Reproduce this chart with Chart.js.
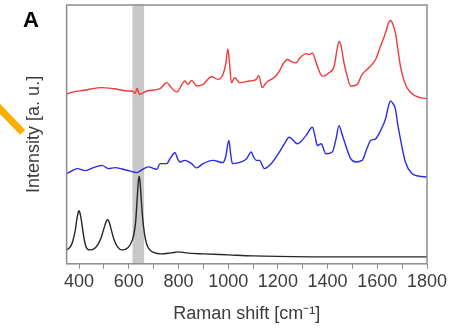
<!DOCTYPE html>
<html><head><meta charset="utf-8">
<script src="https://cdn.jsdelivr.net/npm/chart.js@4/dist/chart.umd.min.js"></script>
<style>
html,body{margin:0;padding:0;background:#fff;}
#wrap{position:relative;width:459px;height:329px;overflow:hidden;}
#panel{position:absolute;left:23px;top:7px;line-height:21px;font:bold 22px "Liberation Sans",Arial,sans-serif;color:#000;}
#mark{position:absolute;left:-10px;top:95px;width:47px;height:7px;background:#f6b100;transform-origin:0 50%;transform:rotate(46deg);}
</style></head><body>
<div id="wrap"><canvas id="c" width="459" height="329"></canvas><div id="panel">A</div><div id="mark"></div></div>
<script>
// Raman spectra (x: Raman shift in cm^-1, y: intensity in arbitrary units, stacked offsets)
const shiftRed = [350,366,420,486,540,593,614,626,634,642,673,726,753,770,793,826,838,853,873,899,933,959,979,990,999,1006,1013,1026,1046,1086,1113,1123,1137,1153,1173,1190,1206,1222,1239,1254,1273,1290,1313,1326,1339,1350,1359,1379,1406,1426,1438,1446,1454,1466,1478,1493,1519,1539,1566,1593,1613,1633,1644,1653,1662,1673,1682,1693,1706,1719,1753,1800];
const intensityRed = [170,171.7,174,176.7,175.5,173.3,173,171,176,170,173.3,175.7,181.7,177,172.3,183.3,180,184,178.3,180,187.7,185,190,200,215.7,200,181.7,186.7,181.7,183.3,185,189,176.7,181.7,185,188,193.3,201,205,203,201.7,207,211,210,211.7,205,198.3,188.3,191.7,198,215,223.3,219,201.7,189,178.3,180,190,196.7,205,218.3,231.7,241,244.3,241,231.7,217,198.3,185,176.7,168.3,165.5];

const shiftBlue = [350,366,393,426,458,493,518,546,593,614,633,654,679,713,726,753,766,786,798,806,826,853,873,899,939,979,990,1003,1010,1017,1053,1074,1093,1102,1113,1126,1146,1173,1206,1226,1246,1279,1313,1339,1350,1359,1374,1393,1419,1434,1446,1458,1473,1493,1513,1539,1558,1573,1593,1613,1633,1644,1653,1662,1673,1682,1693,1713,1739,1766,1800];
const intensityBlue = [90,92,95,93,96,98.3,95,96,93.3,92,91,94,96.7,94.3,100,100,105,111,104,101.7,103.3,100,95.7,100,103.3,101,107,123.3,110,100,101.7,105,111.7,107,103.3,103.3,95,100,111.7,120,126.7,120,128.3,136.7,127,118.3,120,110,111.7,125,138.3,130,118.3,105,101.7,103.3,115,123.3,125,133.3,145,157,163.3,161,155,140,125,101.7,90,87.5,86.5];

const shiftBlack = [350,365,375,385,392,397,400,403,408,415,422,433,445,460,475,490,503,510,515,520,527,540,555,573,590,605,620,628,634,639,642,645,650,656,663,672,685,700,730,770,800,830,900,1000,1100,1200,1400,1800];
const intensityBlack = [13,16,22,33,45,51,52.5,51,45,33,22,14,13,14,18,26,37,42,43.5,42,36,24,16,13,14,18,28,42,65,83,87,83,65,45,30,19,13,10.5,9,10,11,10,9,8,7,6.5,6,6];

const bandRange = [615, 662];
const majorTicks = [400,600,800,1000,1200,1400,1600,1800];
const minorTicks = [500,700,900,1100,1300,1500,1700];
const xLimits = [350, 1800];
const yLimits = [-1, 260];

function toPoints(xs, ys){ return xs.map((x,i)=>({x:x, y:ys[i]})); }

const framePlugin = {
  id: 'frameBand',
  beforeDatasetsDraw(chart){
    const {ctx, chartArea:a, scales:{x}} = chart;
    const x0 = x.getPixelForValue(bandRange[0]);
    const x1 = x.getPixelForValue(bandRange[1]);
    ctx.save();
    ctx.fillStyle = '#c8c8c8';
    ctx.fillRect(x0, a.top, x1 - x0, a.bottom - a.top);
    ctx.restore();
  },
  afterDatasetsDraw(chart){
    const {ctx, chartArea:a} = chart;
    ctx.save();
    ctx.strokeStyle = '#8c8c8c';
    ctx.lineWidth = 1.5;
    ctx.strokeRect(a.left, a.top, a.right - a.left, a.bottom - a.top);
    ctx.restore();
  }
};

const font = {family: '"Liberation Sans", Arial, sans-serif', size: 18};
const common = {borderWidth: 1.4, pointRadius: 0, fill: false, cubicInterpolationMode: 'monotone'};

new Chart(document.getElementById('c'), {
  type: 'line',
  data: {
    datasets: [
      Object.assign({label: 'Red spectrum', data: toPoints(shiftRed, intensityRed), borderColor: '#f03a3a'}, common),
      Object.assign({label: 'Blue spectrum', data: toPoints(shiftBlue, intensityBlue), borderColor: '#2a2ae8'}, common),
      Object.assign({label: 'Black spectrum', data: toPoints(shiftBlack, intensityBlack), borderColor: '#262626'}, common)
    ]
  },
  options: {
    responsive: false,
    animation: false,
    layout: {padding: {left: 19, right: 32, top: 5, bottom: 0}},
    plugins: {legend: {display: false}, tooltip: {enabled: false}},
    scales: {
      x: {
        type: 'linear',
        min: xLimits[0], max: xLimits[1],
        afterBuildTicks(scale){
          scale.ticks = majorTicks.concat(minorTicks).sort((a,b)=>a-b).map(v=>({value:v}));
        },
        ticks: {
          autoSkip: false, maxRotation: 0, padding: 2, color: '#3c3c3c', font: font,
          callback: (v) => majorTicks.includes(v) ? String(v) : ''
        },
        grid: {display: true, drawOnChartArea: false, drawTicks: true, tickLength: 5, color: '#8c8c8c', lineWidth: 1},
        border: {display: false},
        title: {display: true, text: 'Raman shift [cm\u207B\u00B9]', color: '#3c3c3c', font: font, padding: {top: 9, bottom: 4}}
      },
      y: {
        min: yLimits[0], max: yLimits[1],
        ticks: {display: false},
        grid: {display: false},
        border: {display: false},
        title: {display: true, text: 'Intensity [a. u.]', color: '#3c3c3c', font: font, padding: {top: 4, bottom: 14}}
      }
    }
  },
  plugins: [framePlugin]
});
</script>
</body></html>
